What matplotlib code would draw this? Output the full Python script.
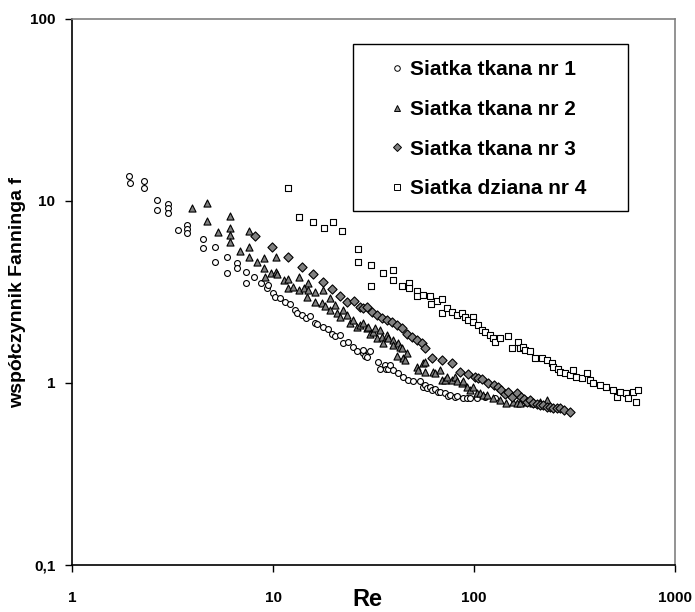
import matplotlib
matplotlib.use("Agg")
import matplotlib.pyplot as plt
from matplotlib.lines import Line2D
from matplotlib.patches import Rectangle
from matplotlib.ticker import FixedLocator, FixedFormatter, NullLocator

plt.rcParams['font.family'] = ['Liberation Sans', 'DejaVu Sans']
plt.rcParams['font.weight'] = 'bold'

# Siatka tkana nr 1
re1 = [1.93, 1.94, 2.29, 2.29, 2.65, 2.65, 2.99, 2.99, 2.99, 3.38,
       3.72, 3.72, 3.72, 4.47, 4.47, 5.15, 5.15, 5.89, 5.89, 6.62,
       6.62, 7.34, 7.34, 8.07, 8.71, 9.30, 9.48, 10.0, 10.2, 10.8,
       11.5, 12.1, 12.9, 13.1, 13.9, 14.6, 15.3, 16.2, 16.6, 17.8,
       18.8, 19.6, 20.3, 21.5, 22.4, 23.7, 25.1, 26.1, 28.1, 28.1,
       28.7, 29.3, 30.4, 33.4, 34.1, 36.1, 36.6, 37.5, 38.2, 39.7,
       42.0, 44.5, 47.1, 49.9, 53.9, 55.5, 57.0, 58.2, 60.4, 61.5,
       64.0, 66.3, 67.8, 71.8, 74.4, 76.0, 80.5, 82.0, 88.5, 91.9,
       95.5, 103, 113, 127]
f1 = [13.8, 12.5, 12.8, 11.8, 10.1, 8.9, 9.6, 9.1, 8.6, 6.9,
      7.35, 7.0, 6.65, 6.16, 5.5, 5.57, 4.64, 4.91, 4.02, 4.55,
      4.27, 4.09, 3.53, 3.84, 3.53, 3.31, 3.45, 3.13, 2.98, 2.92,
      2.80, 2.72, 2.52, 2.43, 2.36, 2.27, 2.33, 2.14, 2.11, 2.04,
      1.97, 1.87, 1.81, 1.84, 1.65, 1.69, 1.58, 1.49, 1.46, 1.52,
      1.40, 1.39, 1.49, 1.31, 1.20, 1.26, 1.20, 1.20, 1.26, 1.18,
      1.13, 1.08, 1.04, 1.02, 1.02, 0.947, 0.975, 0.935, 0.954, 0.915,
      0.923, 0.896, 0.896, 0.878, 0.848, 0.859, 0.841, 0.848, 0.830, 0.824,
      0.824, 0.824, 0.838, 0.827]

# Siatka tkana nr 2
re2 = [3.97, 4.68, 4.68, 5.35, 6.13, 6.13, 6.13, 6.13, 6.85, 7.60,
       7.60, 7.60, 8.30, 9.02, 9.02, 9.12, 9.75, 10.4, 10.4, 10.5,
       11.3, 11.9, 11.9, 12.6, 13.4, 13.4, 14.2, 14.7, 15.0, 15.0,
       16.2, 16.2, 17.8, 17.5, 18.1, 19.2, 19.2, 20.3, 20.7, 21.5,
       22.4, 23.3, 24.2, 25.1, 26.1, 27.1, 28.1, 29.3, 29.8, 30.4,
       31.6, 32.2, 32.8, 34.1, 34.7, 35.4, 36.8, 37.5, 39.7, 39.7,
       41.2, 42.0, 42.8, 43.6, 44.5, 45.4, 46.3, 51.9, 52.8, 56.0,
       57.0, 57.0, 62.8, 64.0, 67.8, 69.1, 71.8, 73.1, 77.4, 80.5,
       82.0, 86.8, 88.5, 92.0, 95.5, 99.3, 103, 107, 111, 116,
       125, 135, 145, 157, 163, 169, 183, 197, 213, 230]
f2 = [9.12, 9.79, 7.73, 6.76, 8.32, 7.10, 6.50, 5.98, 5.30, 6.87,
      5.61, 4.94, 4.62, 4.84, 4.27, 3.83, 4.04, 4.09, 4.94, 3.97,
      3.68, 3.71, 3.31, 3.36, 3.83, 3.24, 3.31, 2.98, 3.53, 3.24,
      3.17, 2.80, 3.24, 2.74, 2.65, 2.92, 2.52, 2.68, 2.42, 2.31,
      2.52, 2.36, 2.13, 2.22, 2.04, 2.08, 2.13, 2.00, 2.04, 1.87,
      1.91, 2.00, 1.76, 1.95, 1.80, 1.65, 1.84, 1.76, 1.72, 1.62,
      1.40, 1.65, 1.58, 1.55, 1.37, 1.34, 1.46, 1.23, 1.18, 1.28,
      1.15, 1.31, 1.15, 1.13, 1.18, 1.04, 1.04, 1.08, 1.04, 1.08,
      1.02, 0.996, 1.02, 0.954, 0.915, 0.954, 0.878, 0.878, 0.859, 0.859,
      0.824, 0.807, 0.780, 0.789, 0.774, 0.774, 0.789, 0.774, 0.789, 0.807]

# Siatka tkana nr 3
re3 = [8.14, 9.94, 11.9, 13.9, 15.8, 17.7, 19.6, 21.5, 23.3, 25.4,
       27.1, 28.1, 29.3, 31.0, 32.8, 34.7, 36.8, 39.0, 41.2, 43.6,
       46.3, 49.0, 51.9, 54.9, 57.0, 61.5, 69.1, 77.4, 84.9, 93.7,
       101, 105, 109, 118, 126, 131, 137, 142, 147, 154,
       163, 172, 178, 183, 189, 197, 205, 213, 220, 230,
       240, 248, 258, 268, 280, 300]
f3 = [6.42, 5.62, 4.95, 4.36, 3.97, 3.60, 3.28, 3.01, 2.80, 2.82,
      2.63, 2.57, 2.61, 2.46, 2.36, 2.27, 2.22, 2.17, 2.08, 2.00,
      1.87, 1.80, 1.72, 1.65, 1.55, 1.37, 1.34, 1.28, 1.15, 1.12,
      1.08, 1.06, 1.05, 0.996, 0.975, 0.95, 0.915, 0.87, 0.896, 0.841,
      0.878, 0.841, 0.82, 0.789, 0.807, 0.774, 0.77, 0.757, 0.76, 0.741,
      0.74, 0.726, 0.73, 0.726, 0.71, 0.695]

# Siatka dziana nr 4
re4 = [11.9, 13.5, 15.9, 17.9, 19.9, 22.1, 26.6, 26.6, 30.9, 30.9,
       35.2, 39.4, 39.4, 43.6, 47.6, 47.6, 52.0, 52.2, 56.0, 60.4,
       61.1, 65.2, 69.1, 69.1, 73.1, 77.4, 82.0, 86.8, 90.4, 93.7,
       99.2, 99.2, 105, 109, 113, 120, 124, 127, 135, 148,
       155, 166, 169, 176, 179, 190, 200, 217, 230, 243,
       248, 261, 268, 283, 300, 311, 322, 344, 364, 378,
       392, 422, 456, 492, 512, 530, 570, 581, 618, 643,
       654]
f4 = [11.8, 8.20, 7.62, 7.08, 7.62, 6.87, 5.43, 4.65, 4.45, 3.43,
      4.01, 4.20, 3.70, 3.43, 3.54, 3.31, 3.20, 2.99, 3.06, 2.99,
      2.70, 2.83, 2.89, 2.42, 2.58, 2.46, 2.36, 2.42, 2.31, 2.22,
      2.31, 2.15, 2.08, 1.95, 1.91, 1.84, 1.76, 1.69, 1.76, 1.81,
      1.55, 1.69, 1.55, 1.58, 1.52, 1.49, 1.37, 1.37, 1.34, 1.28,
      1.23, 1.20, 1.15, 1.13, 1.11, 1.18, 1.08, 1.06, 1.13, 1.04,
      0.996, 0.975, 0.954, 0.915, 0.841, 0.896, 0.878, 0.824, 0.896, 0.789,
      0.915]

labels = ["Siatka tkana nr 1", "Siatka tkana nr 2",
          "Siatka tkana nr 3", "Siatka dziana nr 4"]

x_ticks = [1, 10, 100, 1000]
x_tick_labels = ["1", "10", "100", "1000"]
y_ticks = [0.1, 1, 10, 100]
y_tick_labels = ["0,1", "1", "10", "100"]

W, H = 695, 612
fig = plt.figure(figsize=(W / 100, H / 100), dpi=100)
ax = fig.add_axes([72 / W, 1 - 565 / H, (675 - 72) / W, (565 - 19) / H])

GRAY = "#808080"
ax.scatter(re1, f1, s=18, marker="o", facecolors="white", edgecolors="black", linewidths=0.8, zorder=3)
ax.scatter(re2, f2, s=26, marker="^", facecolors=GRAY, edgecolors="black", linewidths=0.8, zorder=4)
ax.scatter(re3, f3, s=22, marker="D", facecolors=GRAY, edgecolors="black", linewidths=0.8, zorder=5)
ax.scatter(re4, f4, s=22, marker="s", facecolors="white", edgecolors="black", linewidths=0.8, zorder=6)

ax.set_xscale("log")
ax.set_yscale("log")
ax.set_xlim(1, 1000)
ax.set_ylim(0.1, 100)

ax.xaxis.set_major_locator(FixedLocator(x_ticks))
ax.xaxis.set_major_formatter(FixedFormatter(x_tick_labels))
ax.yaxis.set_major_locator(FixedLocator(y_ticks))
ax.yaxis.set_major_formatter(FixedFormatter(y_tick_labels))
ax.xaxis.set_minor_locator(NullLocator())
ax.yaxis.set_minor_locator(NullLocator())

ax.tick_params(axis="x", direction="out", length=5, width=1.0, pad=14, labelsize=11)
ax.tick_params(axis="y", direction="out", length=5, width=1.0, pad=7, labelsize=11)
for lab in ax.get_xticklabels() + ax.get_yticklabels():
    lab.set_fontweight("bold")

for side in ("left", "bottom"):
    ax.spines[side].set_color("black")
    ax.spines[side].set_linewidth(1.2)
for side in ("top", "right"):
    ax.spines[side].set_color(GRAY)
    ax.spines[side].set_linewidth(1.2)

# axis titles
fig.text(367 / W, 1 - 599 / H, "Re", fontsize=17, fontweight="bold",
         ha="center", va="center")
fig.text(18 / W, 1 - 292 / H, "współczynnik Fanninga f", fontsize=14,
         fontweight="bold", rotation=90, ha="center", va="center")

# legend: frameless entries inside a separately drawn box
handles = [
    Line2D([], [], ls="none", marker="o", markersize=4, markerfacecolor="white", markeredgecolor="black", markeredgewidth=0.7),
    Line2D([], [], ls="none", marker="^", markersize=5, markerfacecolor=GRAY, markeredgecolor="black", markeredgewidth=0.7),
    Line2D([], [], ls="none", marker="D", markersize=4.2, markerfacecolor=GRAY, markeredgecolor="black", markeredgewidth=0.7),
    Line2D([], [], ls="none", marker="s", markersize=4.5, markerfacecolor="white", markeredgecolor="black", markeredgewidth=0.7),
]
leg = fig.legend(handles, labels, loc="upper left",
                 bbox_to_anchor=(391 / W, 1 - 60 / H),
                 frameon=False, borderpad=0, borderaxespad=0,
                 handlelength=0.6, handletextpad=0.32, labelspacing=1.0,
                 prop={"family": ["Liberation Sans"], "weight": "bold", "size": 15})
fig.add_artist(Rectangle((353 / W, 1 - 211 / H), (628 - 353) / W, (211 - 44) / H,
                         transform=fig.transFigure, fill=False,
                         edgecolor="black", linewidth=1.0, zorder=10))

fig.savefig("out.png", dpi=100, facecolor="white")
